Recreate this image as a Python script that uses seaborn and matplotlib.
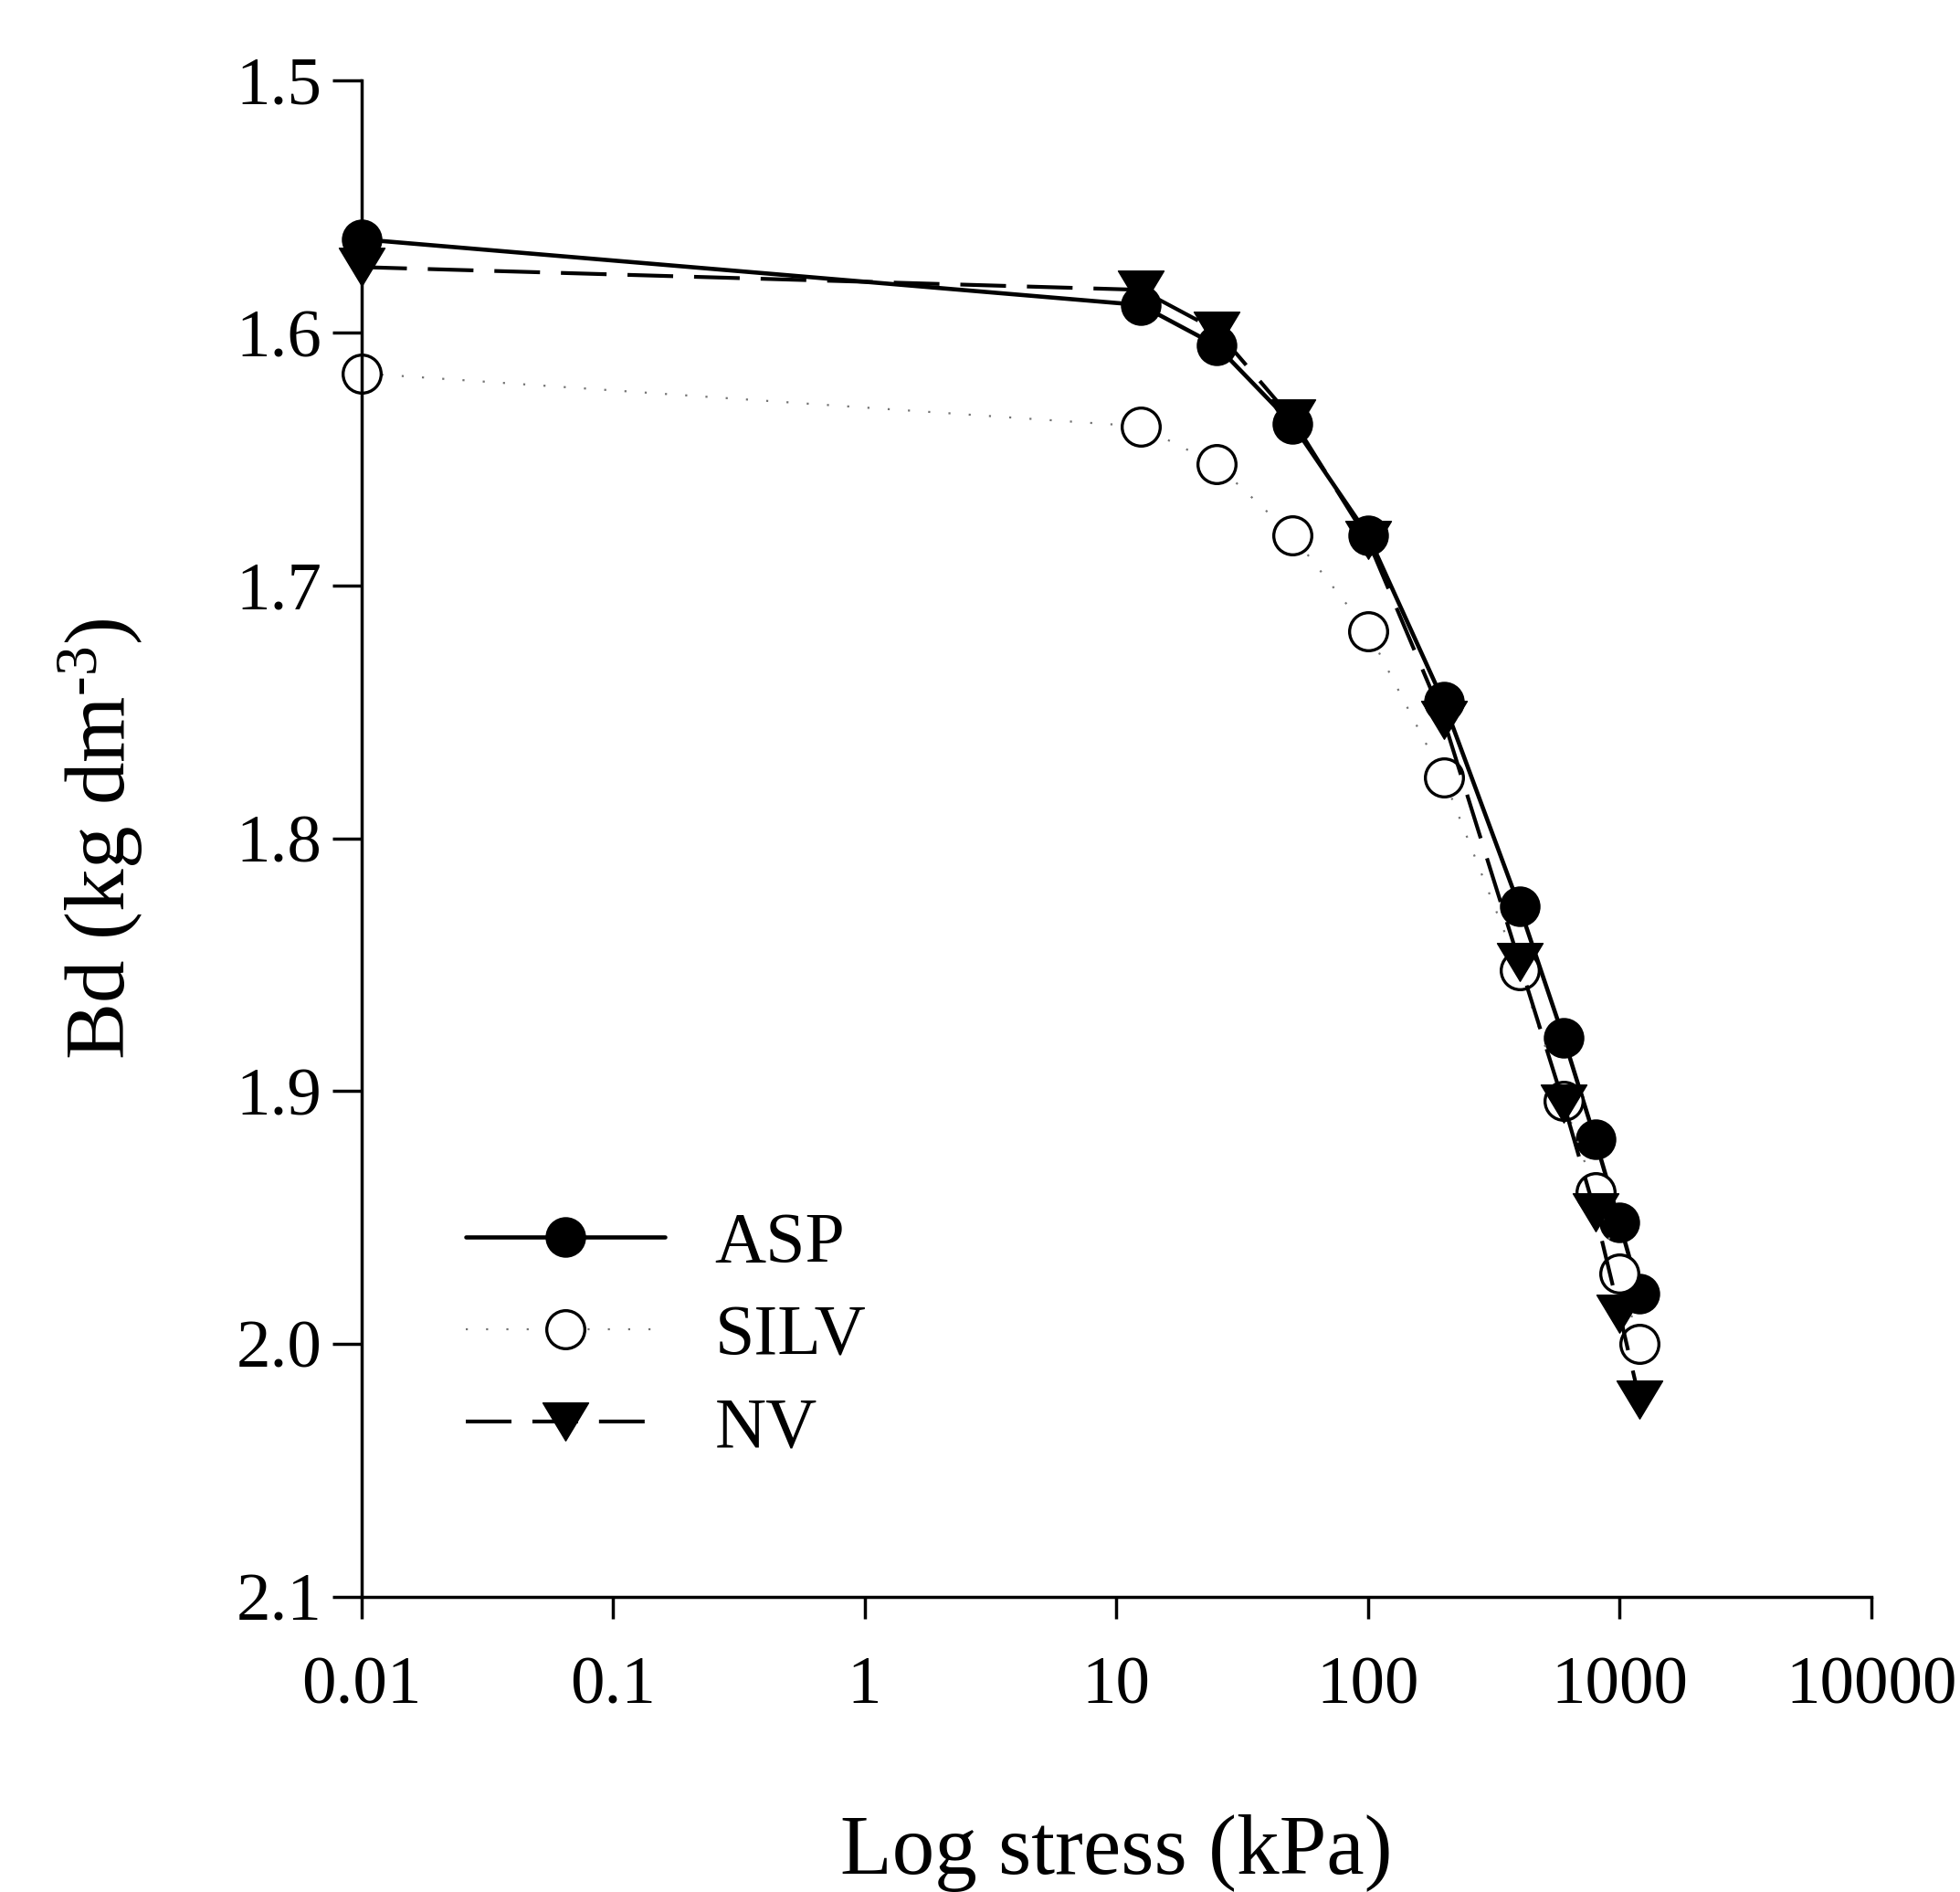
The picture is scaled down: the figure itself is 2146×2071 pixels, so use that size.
import numpy as np
import pandas as pd
import matplotlib
matplotlib.use('Agg')
from matplotlib import pyplot as plt
from matplotlib.path import Path
import seaborn as sns

# data
stress = [0.01, 12.5, 25, 50, 100, 200, 400, 600, 800, 1000, 1200]
asp = [1.563, 1.589, 1.605, 1.636, 1.680, 1.746, 1.827, 1.879, 1.919, 1.952, 1.980]
silv = [1.616, 1.637, 1.652, 1.680, 1.718, 1.776, 1.852, 1.904, 1.940, 1.972, 2.000]
nv = [1.574, 1.583, 1.599, 1.634, 1.682, 1.753, 1.849, 1.905, 1.948, 1.988, 2.022]

xticks = [0.01, 0.1, 1, 10, 100, 1000, 10000]
xticklabels = ['0.01', '0.1', '1', '10', '100', '1000', '10000']
yticks = [1.5, 1.6, 1.7, 1.8, 1.9, 2.0, 2.1]
yticklabels = ['1.5', '1.6', '1.7', '1.8', '1.9', '2.0', '2.1']

sns.set_style('ticks')
plt.rcParams['font.family'] = ['Liberation Serif', 'DejaVu Serif']
plt.rcParams['mathtext.fontset'] = 'custom'
plt.rcParams['mathtext.rm'] = 'Liberation Serif'
plt.rcParams['mathtext.default'] = 'regular'
plt.rcParams['text.color'] = 'black'
plt.rcParams['axes.labelcolor'] = 'black'
plt.rcParams['xtick.color'] = 'black'
plt.rcParams['ytick.color'] = 'black'

fig = plt.figure(figsize=(21.46, 20.71), dpi=100)
ax = fig.add_axes([0.1843, 0.1561, 0.7704, 0.8016])

tri = Path([(-1, 0.83), (1, 0.83), (0, -0.83), (-1, 0.83)],
           [Path.MOVETO, Path.LINETO, Path.LINETO, Path.CLOSEPOLY])

sns.lineplot(x=stress, y=asp, ax=ax, color='black', lw=3.3, linestyle='-',
             marker='o', markersize=30, markerfacecolor='black',
             markeredgecolor='black', markeredgewidth=2, label='ASP', clip_on=False)
sns.lineplot(x=stress, y=silv, ax=ax, color='0.45', lw=1.6, linestyle=(0, (1, 9)),
             marker='o', markersize=30, markerfacecolor='white',
             markeredgecolor='black', markeredgewidth=2.4, label='SILV', clip_on=False)
sns.lineplot(x=stress, y=nv, ax=ax, color='black', lw=3, linestyle=(0, (12, 5.5)),
             marker=tri, markersize=36, markerfacecolor='black',
             markeredgecolor='black', markeredgewidth=1, label='NV', clip_on=False)

ax.set_xscale('log')
ax.set_xlim(0.01, 10000)
ax.set_ylim(2.1, 1.5)
ax.set_xticks(xticks)
ax.set_xticklabels(xticklabels)
ax.xaxis.set_minor_locator(matplotlib.ticker.NullLocator())
ax.set_yticks(yticks)
ax.set_yticklabels(yticklabels)

for s in ['top', 'right']:
    ax.spines[s].set_visible(False)
for s in ['left', 'bottom']:
    ax.spines[s].set_linewidth(2.5)
    ax.spines[s].set_color('black')

ax.tick_params(axis='x', direction='out', length=17, width=2.5, labelsize=54, pad=30)
ax.tick_params(axis='y', direction='out', length=23, width=2.5, labelsize=54, pad=8)

ax.set_xlabel('Log stress (kPa)', fontsize=67, labelpad=76)
ax.set_ylabel(r'Bd (kg dm$^{\text{-}3}$)', fontsize=67, labelpad=72)

ax.legend(loc='upper left', bbox_to_anchor=(0.2377, 0.3594), bbox_transform=fig.transFigure,
          frameon=False, fontsize=56, handlelength=2.8, handletextpad=0.7,
          labelspacing=0.38, borderpad=0, borderaxespad=0)

fig.savefig('out.png', dpi=100, facecolor='white')
